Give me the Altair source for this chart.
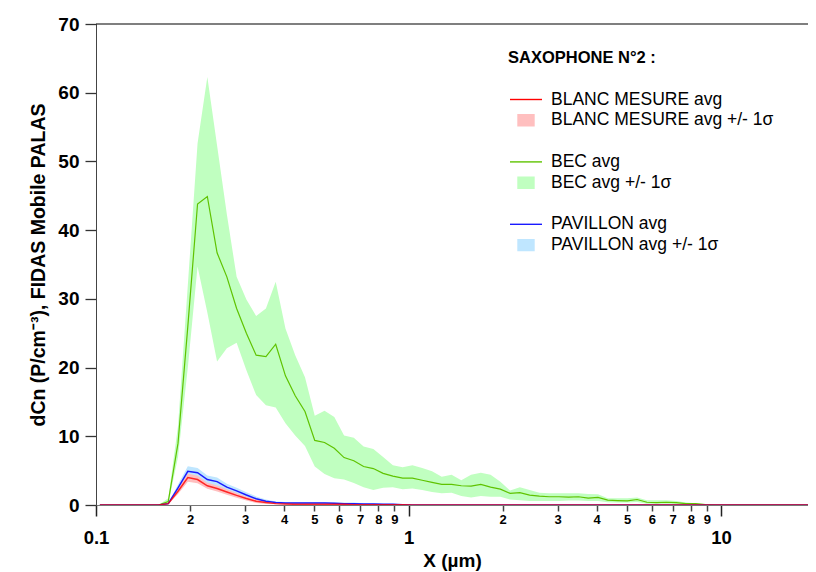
import altair as alt
import pandas as pd

FONT = "Liberation Sans"

# particle diameter bins (µm), 32 channels per decade
x_um = [0.1029, 0.1106, 0.1189, 0.1277, 0.1373, 0.1475, 0.1585, 0.1703, 0.1830, 0.1967,
        0.2113, 0.2271, 0.2440, 0.2622, 0.2818, 0.3028, 0.3254, 0.3497, 0.3758, 0.4038,
        0.4339, 0.4663, 0.5011, 0.5385, 0.5787, 0.6218, 0.6682, 0.7181, 0.7716, 0.8292,
        0.8910, 0.9575, 1.029, 1.106, 1.189, 1.277, 1.373, 1.475, 1.585, 1.703,
        1.830, 1.967, 2.113, 2.271, 2.440, 2.622, 2.818, 3.028, 3.254, 3.497,
        3.758, 4.038, 4.339, 4.663, 5.011, 5.385, 5.787, 6.218, 6.682, 7.181,
        7.716, 8.292, 8.910, 9.575, 10.29, 11.06, 11.89, 12.77, 13.73, 14.75,
        15.85, 17.03, 18.30, 19.67, 21.13]

bec_avg = [0, 0, 0, 0, 0, 0, 0, 0.5, 9.0, 26.0,
           43.8, 44.9, 36.7, 33.2, 28.6, 25.0, 21.8, 21.6, 23.4, 18.8,
           15.9, 13.6, 9.4, 9.1, 8.25, 6.9, 6.45, 5.6, 5.3, 4.6,
           4.2, 3.9, 3.9, 3.6, 3.3, 3.0, 3.0, 2.8, 2.75, 3.0,
           2.6, 2.3, 1.7, 1.8, 1.45, 1.3, 1.2, 1.2, 1.15, 1.2,
           1.0, 1.1, 0.7, 0.65, 0.6, 0.8, 0.4, 0.35, 0.4, 0.35,
           0.2, 0.2, 0.05, 0, 0, 0, 0, 0, 0, 0,
           0, 0, 0, 0, 0]
bec_lo = [0, 0, 0, 0, 0, 0, 0, 0.2, 7.0, 20.0,
          34.7, 28.0, 20.9, 22.8, 23.6, 19.6, 16.0, 14.5, 14.2, 11.9,
          10.1, 8.6, 5.6, 4.5, 3.9, 3.7, 3.2, 2.6, 2.2, 2.5,
          2.6, 2.3, 2.4, 2.2, 1.9, 1.7, 1.8, 1.3, 1.1, 1.3,
          1.2, 1.2, 0.8, 0.7, 0.6, 0.6, 0.6, 0.6, 0.65, 0.65,
          0.6, 0.6, 0.4, 0.35, 0.35, 0.45, 0.2, 0.2, 0.2, 0.15,
          0.1, 0.05, 0, 0, 0, 0, 0, 0, 0, 0,
          0, 0, 0, 0, 0]
bec_hi = [0, 0, 0, 0, 0, 0, 0, 1.0, 11.5, 32.0,
          52.6, 62.3, 52.3, 42.3, 33.2, 29.9, 27.5, 28.6, 32.5, 25.7,
          21.8, 18.6, 13.0, 13.7, 12.8, 10.1, 9.8, 8.5, 8.15, 7.0,
          5.8, 5.5, 5.8, 5.4, 4.9, 4.1, 4.4, 3.6, 4.4, 4.7,
          4.4, 3.4, 2.1, 2.6, 2.2, 1.8, 1.7, 1.7, 1.7, 1.7,
          1.6, 1.55, 1.0, 1.0, 1.0, 1.1, 0.7, 0.7, 0.7, 0.6,
          0.35, 0.25, 0.1, 0, 0, 0, 0, 0, 0, 0,
          0, 0, 0, 0, 0]

blanc_avg = [0, 0, 0, 0, 0, 0, 0, 0.2, 2.0, 4.0,
             3.7, 2.8, 2.4, 1.9, 1.4, 0.95, 0.55, 0.35, 0.2, 0.15,
             0.1, 0.1, 0.1, 0.1, 0.1, 0.1, 0.05, 0.05, 0.05, 0.05,
             0.05, 0.05] + [0.0] * 43
blanc_lo = [0, 0, 0, 0, 0, 0, 0, 0.1, 1.6, 3.4,
            3.15, 2.35, 1.95, 1.5, 1.05, 0.65, 0.3, 0.15, 0.1, 0.05,
            0.05, 0.05, 0.05, 0.05, 0.05, 0.05, 0, 0, 0, 0,
            0, 0] + [0.0] * 43
blanc_hi = [0, 0, 0, 0, 0, 0, 0, 0.3, 2.4, 4.6,
            4.25, 3.25, 2.85, 2.3, 1.75, 1.25, 0.8, 0.55, 0.3, 0.25,
            0.15, 0.15, 0.15, 0.15, 0.15, 0.15, 0.1, 0.1, 0.1, 0.1,
            0.1, 0.1] + [0.0] * 43

pav_avg = [0, 0, 0, 0, 0, 0, 0, 0.2, 2.5, 4.9,
           4.7, 3.7, 3.4, 2.6, 2.05, 1.45, 0.9, 0.55, 0.35, 0.3,
           0.3, 0.3, 0.3, 0.3, 0.25, 0.2, 0.2, 0.15, 0.15, 0.1,
           0.1, 0.05] + [0.0] * 43
pav_lo = [0, 0, 0, 0, 0, 0, 0, 0.1, 2.0, 4.15,
          4.0, 3.1, 2.8, 2.1, 1.6, 1.05, 0.55, 0.3, 0.2, 0.15,
          0.15, 0.15, 0.15, 0.15, 0.1, 0.1, 0.1, 0.05, 0.05, 0.05,
          0.05, 0] + [0.0] * 43
pav_hi = [0, 0, 0, 0, 0, 0, 0, 0.3, 3.0, 5.65,
          5.4, 4.3, 4.0, 3.1, 2.5, 1.85, 1.25, 0.8, 0.5, 0.45,
          0.45, 0.45, 0.45, 0.45, 0.4, 0.35, 0.35, 0.25, 0.25, 0.2,
          0.2, 0.1] + [0.0] * 43

legend_labels = ["BLANC MESURE avg", "BLANC MESURE avg +/- 1σ", " ",
                 "BEC avg", "BEC avg +/- 1σ", "  ",
                 "PAVILLON avg", "PAVILLON avg +/- 1σ"]
legend_colors = ["#FF0000", "#FFBFBF", "rgba(0,0,0,0)",
                 "#5FC300", "#C0FFC0", "rgba(0,0,0,0)",
                 "#1A1AFF", "#BFE6FF"]
LINE = "M-2,0H2"
RECT = "M-1,-0.69H1V0.69H-1Z"
legend_shapes = [LINE, RECT, RECT, LINE, RECT, RECT, LINE, RECT]

major_ticks = [0.1, 1, 10]
minor_ticks = [0.2, 0.3, 0.4, 0.5, 0.6, 0.7, 0.8, 0.9,
               2, 3, 4, 5, 6, 7, 8, 9]
y_ticks = [0, 10, 20, 30, 40, 50, 60, 70]


def frame(avg, lo, hi):
    return pd.DataFrame({"x": x_um, "avg": avg, "lo": lo, "hi": hi})


bec = frame(bec_avg, bec_lo, bec_hi)
blanc = frame(blanc_avg, blanc_lo, blanc_hi)
pav = frame(pav_avg, pav_lo, pav_hi)

xscale = alt.Scale(type="log", domain=[0.1, 18.97], nice=False)
yscale = alt.Scale(domain=[0, 70], nice=False, zero=True)

yaxis = alt.Axis(values=y_ticks, title="dCn (P/cm⁻³), FIDAS Mobile PALAS", grid=False,
                 tickSize=11, tickWidth=1.3, tickColor="#333", domainColor="#444",
                 labelFont=FONT, labelFontSize=19, labelFontWeight="bold", labelColor="black",
                 labelPadding=6, titleFont=FONT, titleFontSize=19.5, titleFontWeight="bold",
                 titleColor="black", titlePadding=9)

minor_axis = alt.Axis(values=minor_ticks, orient="bottom", grid=False, format="~g",
                      labelExpr="replace(replace(datum.label, '0.', ''), '0', '')",
                      tickSize=6, tickWidth=1.5, tickColor="#444", domainColor="#777",
                      labelFont=FONT, labelFontSize=13, labelFontWeight="bold",
                      labelColor="black", labelPadding=2, labelOverlap=False,
                      labelFlush=False, title=None)

major_axis = alt.Axis(values=major_ticks, orient="bottom", grid=False, format="~g",
                      tickSize=11, tickWidth=1.5, tickColor="#222", domainColor="#777",
                      labelFont=FONT, labelFontSize=18.5, labelFontWeight="bold",
                      labelColor="black", labelPadding=12, labelOverlap=False,
                      labelFlush=False, title="X (µm)", titleFont=FONT, titleFontSize=19,
                      titleFontWeight="bold", titleColor="black", titlePadding=5)


def band(df, color, xaxis=None):
    return alt.Chart(df).mark_area(color=color, opacity=1, clip=True).encode(
        x=alt.X("x:Q", scale=xscale, axis=xaxis),
        y=alt.Y("lo:Q", scale=yscale, axis=yaxis),
        y2="hi:Q",
    )


def line(df, color, width, opacity=1.0):
    return alt.Chart(df).mark_line(color=color, strokeWidth=width, opacity=opacity,
                                   clip=True).encode(
        x=alt.X("x:Q", scale=xscale, axis=None),
        y=alt.Y("avg:Q", scale=yscale, axis=yaxis),
    )


top_rule = alt.Chart(pd.DataFrame({"v": [70]})).mark_rule(color="black", strokeWidth=1.2).encode(
    y=alt.Y("v:Q", scale=yscale, axis=yaxis)
)

leg = alt.Legend(title="SAXOPHONE N°2 :", orient="none", legendX=412, legendY=26,
                 titleFont=FONT, titleFontSize=16.5, titleFontWeight="bold", titleColor="black",
                 titlePadding=24, labelFont=FONT, labelFontSize=17.5, labelColor="black",
                 labelLimit=0, symbolSize=256, symbolStrokeWidth=1.4, symbolOffset=9,
                 labelOffset=16, rowPadding=2.8, padding=0, symbolOpacity=1)

legend_layer = alt.Chart(pd.DataFrame({"label": legend_labels})).mark_point(
    filled=True, opacity=1).transform_filter("false").encode(
    fill=alt.Fill("label:N", scale=alt.Scale(domain=legend_labels, range=legend_colors), legend=leg),
    stroke=alt.Stroke("label:N", scale=alt.Scale(domain=legend_labels, range=legend_colors), legend=leg),
    shape=alt.Shape("label:N", scale=alt.Scale(domain=legend_labels, range=legend_shapes), legend=leg),
)

chart = alt.layer(
    band(bec, "#C0FFC0", xaxis=minor_axis),
    band(pav, "#BFE6FF", xaxis=major_axis),
    band(blanc, "#FFBFBF"),
    line(bec, "#5FC300", 1.2),
    line(pav, "#1A1AFF", 1.5),
    line(blanc, "#FF0000", 1.5, 0.8),
    top_rule,
    legend_layer,
).resolve_axis(x="independent").properties(
    width=712, height=481,
    padding={"left": 88, "top": 16, "right": 0, "bottom": 67},
    autosize=alt.AutoSizeParams(type="none"),
    background="white",
).configure_view(stroke=None)

chart.save("out.html", embed_options={"renderer": "svg", "actions": False})
